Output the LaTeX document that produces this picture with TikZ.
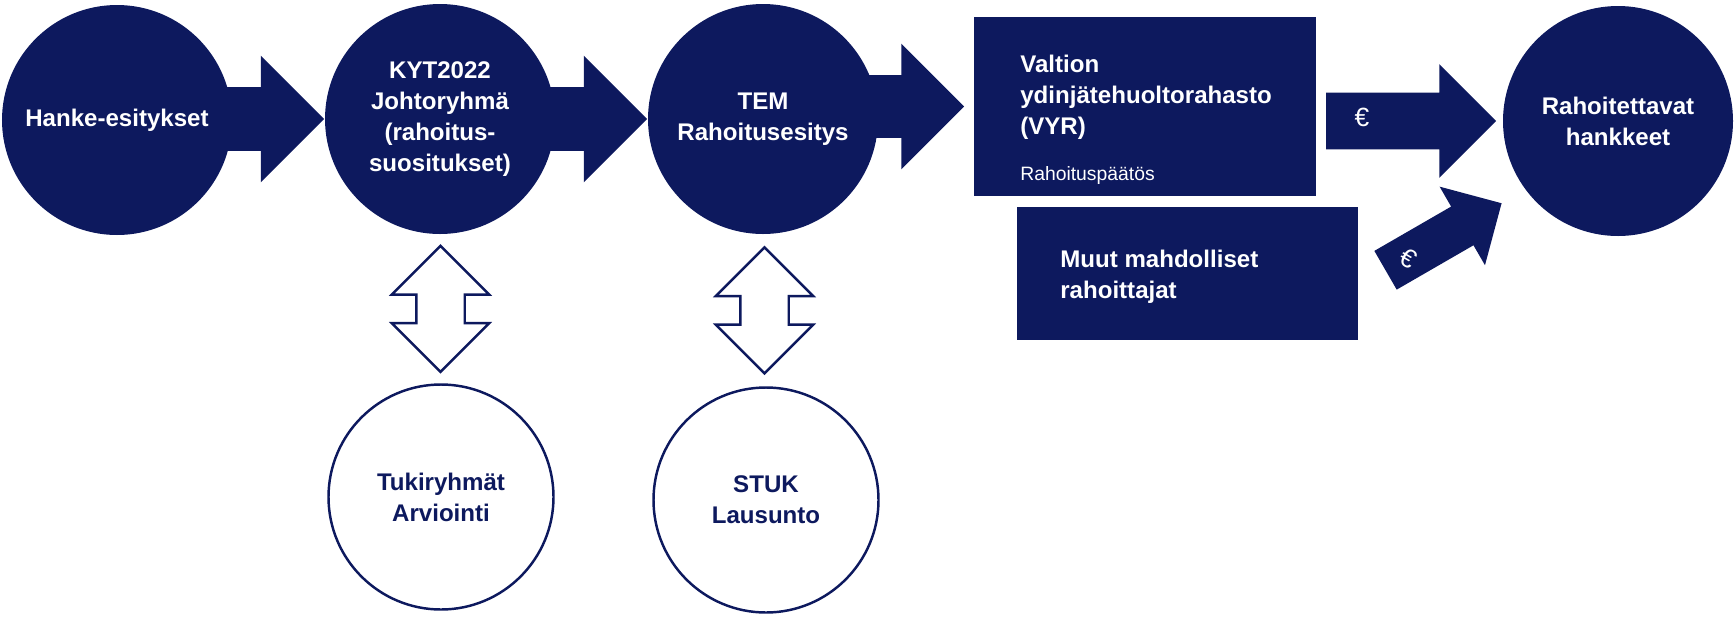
\documentclass[tikz,border=0pt]{standalone}
\usepackage{fontspec}
\setmainfont{Liberation Sans}
\usetikzlibrary{shapes.arrows,calc}
\definecolor{vyrblue}{RGB}{13,25,94}

\begin{document}
\begin{tikzpicture}[
  font=\fontsize{13.7}{17.6}\selectfont\bfseries,
  disc/.style={circle, fill=vyrblue, text=white, minimum size=4.6cm, inner sep=0pt, align=center},
  ring/.style={circle, draw=vyrblue, line width=1.4pt, fill=white, text=vyrblue, minimum size=4.5cm, inner sep=0pt, align=center},
  box/.style={rectangle, fill=vyrblue, inner sep=0pt},
  boxtext/.style={text=white, align=left, anchor=west, inner sep=0pt},
  flow/.style={single arrow, fill=vyrblue, inner xsep=0pt, single arrow tip angle=90},
  swap/.style={double arrow, draw=vyrblue, fill=white, line width=1.4pt, inner xsep=0pt, inner ysep=0.46cm,
    double arrow tip angle=90, double arrow head extend=0.49cm, minimum height=2.52cm, minimum width=1.9cm, rotate=90},
  euro/.style={text=white, inner sep=0pt, font=\fontsize{15}{15}\selectfont\mdseries}
]
\useasboundingbox (0,0) rectangle (34.72,-12.32);
\node[disc] (hanke) at (2.34,-2.40) {Hanke-esitykset};
\node[disc] (kyt) at (8.80,-2.38) {KYT2022\\Johtoryhmä\\(rahoitus-\\suositukset)};
\node[disc] (tem) at (15.26,-2.38) {TEM\\Rahoitusesitys};
\node[box, minimum width=6.84cm, minimum height=3.58cm] (vyr) at (22.90,-2.13) {};
\node[box, minimum width=6.82cm, minimum height=2.66cm] (muut) at (23.75,-5.47) {};
\node[disc] (hank) at (32.36,-2.42) {Rahoitettavat\\hankkeet};
\node[ring] (tuki) at (8.82,-9.94) {Tukiryhmät\\Arviointi};
\node[ring] (stuk) at (15.32,-10.00) {STUK\\Lausunto};

\node[boxtext] (vyrtxt) at (20.40,-1.94) {Valtion\\ydinjätehuoltorahasto\\(VYR)};
\node[boxtext, font=\fontsize{11}{13}\selectfont\mdseries] (paatos) at (20.40,-3.50) {Rahoituspäätös};
\node[boxtext] (muuttxt) at (21.20,-5.54) {Muut mahdolliset\\rahoittajat};

\node[flow, anchor=tip, minimum height=2.0cm, minimum width=2.52cm, inner ysep=0.63cm, single arrow head extend=0.63cm] (a1) at (kyt.west) {};
\node[flow, anchor=tip, minimum height=2.0cm, minimum width=2.52cm, inner ysep=0.63cm, single arrow head extend=0.63cm] (a2) at (tem.west) {};
\node[flow, anchor=tip, minimum height=2.0cm, minimum width=2.5cm, inner ysep=0.62cm, single arrow head extend=0.63cm] (a3) at ([xshift=-0.18cm]vyr.west) {};
\node[flow, anchor=tip, minimum height=3.4cm, minimum width=2.26cm, inner ysep=0.56cm, single arrow head extend=0.57cm] (a4) at ([xshift=-0.12cm]hank.west) {};
\node[flow, anchor=tip, rotate=30, minimum height=2.68cm, minimum width=1.8cm, inner ysep=0.44cm, single arrow head extend=0.46cm] (a5) at (30.04,-4.06) {};
\node[euro] (eur1) at (27.24,-2.34) {€};
\node[euro, rotate=-30] (eur2) at (28.17,-5.16) {€};

\node[swap] (d1) at ($(kyt.south)!0.5!(tuki.north)$) {};
\node[swap] (d2) at ($(tem.south)!0.5!(stuk.north)$) {};
\end{tikzpicture}
\end{document}
